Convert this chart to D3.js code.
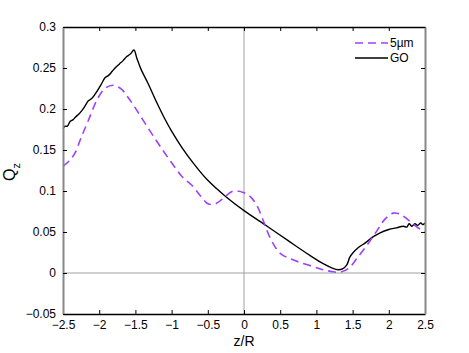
<!DOCTYPE html>
<html>
<head>
<meta charset="utf-8">
<script src="https://cdn.jsdelivr.net/npm/d3@7"></script>
<style>
  body { margin: 0; background: #fff; }
  text { font-family: "Liberation Sans", Arial, sans-serif; }
</style>
</head>
<body>
<div id="vis"></div>
<script>
const FRAME_WIDTH = 469;
const FRAME_HEIGHT = 353;
const MARGINS = {left: 63, right: 44, top: 27, bottom: 39};
const VIS_WIDTH = FRAME_WIDTH - MARGINS.left - MARGINS.right;
const VIS_HEIGHT = FRAME_HEIGHT - MARGINS.top - MARGINS.bottom;

// data
const xTicks = [-2.5, -2, -1.5, -1, -0.5, 0, 0.5, 1, 1.5, 2, 2.5];
const yTicks = [-0.05, 0, 0.05, 0.1, 0.15, 0.2, 0.25, 0.3];

// 5um (purple dashed)
const umZ = [-2.5, -2.4, -2.33, -2.25, -2.15, -2.02, -1.92, -1.81, -1.69, -1.6, -1.5, -1.37, -1.23, -1.1, -0.98, -0.86, -0.72, -0.6, -0.49, -0.38, -0.25, -0.15, 0, 0.1, 0.18, 0.27, 0.36, 0.5, 0.65, 0.77, 0.95, 1.09, 1.2, 1.33, 1.45, 1.56, 1.7, 1.84, 1.95, 2.06, 2.15, 2.25, 2.39, 2.5];
const umQ = [0.13, 0.138, 0.147, 0.165, 0.186, 0.213, 0.225, 0.229, 0.224, 0.214, 0.201, 0.183, 0.164, 0.147, 0.132, 0.118, 0.107, 0.094, 0.084, 0.085, 0.094, 0.1, 0.098, 0.092, 0.082, 0.063, 0.043, 0.024, 0.017, 0.013, 0.008, 0.004, 0.002, 0.001, 0.006, 0.018, 0.034, 0.052, 0.066, 0.073, 0.072, 0.066, 0.056, 0.05];

// GO (black solid)
const goZ = [-2.5, -2.47, -2.44, -2.4, -2.36, -2.33, -2.28, -2.24, -2.2, -2.15, -2.1, -2.05, -2.0, -1.96, -1.92, -1.87, -1.82, -1.77, -1.72, -1.67, -1.62, -1.57, -1.52, -1.48, -1.42, -1.33, -1.2, -1.1, -1.0, -0.85, -0.7, -0.5, -0.25, 0, 0.32, 0.6, 0.9, 1.1, 1.22, 1.3, 1.36, 1.42, 1.46, 1.5, 1.58, 1.68, 1.78, 1.88, 2.0, 2.1, 2.2, 2.25, 2.28, 2.32, 2.36, 2.4, 2.44, 2.47, 2.5];
const goQ = [0.176, 0.179, 0.179, 0.185, 0.187, 0.19, 0.194, 0.198, 0.203, 0.21, 0.213, 0.219, 0.226, 0.232, 0.238, 0.241, 0.246, 0.251, 0.255, 0.259, 0.264, 0.267, 0.272, 0.262, 0.248, 0.232, 0.207, 0.189, 0.173, 0.152, 0.134, 0.113, 0.093, 0.076, 0.057, 0.04, 0.022, 0.011, 0.006, 0.004, 0.005, 0.01, 0.019, 0.024, 0.031, 0.037, 0.044, 0.049, 0.053, 0.055, 0.057, 0.056, 0.06, 0.057, 0.06, 0.058, 0.061, 0.059, 0.061];

const FRAME = d3.select("#vis")
  .append("svg")
    .attr("width", FRAME_WIDTH)
    .attr("height", FRAME_HEIGHT);

const X_SCALE = d3.scaleLinear().domain([-2.5, 2.5]).range([MARGINS.left, MARGINS.left + VIS_WIDTH]);
const Y_SCALE = d3.scaleLinear().domain([-0.05, 0.3]).range([MARGINS.top + VIS_HEIGHT, MARGINS.top]);

const fmt = d => (d < 0 ? "\u2212" : "") + String(Math.abs(d));

// zero lines
FRAME.append("line")
  .attr("x1", X_SCALE(-2.5)).attr("x2", X_SCALE(2.5))
  .attr("y1", Y_SCALE(0)).attr("y2", Y_SCALE(0))
  .attr("stroke", "#a0a0a0").attr("stroke-width", 1);
FRAME.append("line")
  .attr("x1", X_SCALE(0)).attr("x2", X_SCALE(0))
  .attr("y1", Y_SCALE(-0.05)).attr("y2", Y_SCALE(0.3))
  .attr("stroke", "#a0a0a0").attr("stroke-width", 1);

// curves
const line = d3.line()
  .x(d => X_SCALE(d[0]))
  .y(d => Y_SCALE(d[1]))
  .curve(d3.curveCatmullRom);

FRAME.append("path")
  .datum(goZ.map((z, i) => [z, goQ[i]]))
  .attr("d", line)
  .attr("fill", "none")
  .attr("stroke", "#000")
  .attr("stroke-width", 1.4);

FRAME.append("path")
  .datum(umZ.map((z, i) => [z, umQ[i]]))
  .attr("d", line)
  .attr("fill", "none")
  .attr("stroke", "#a040ff")
  .attr("stroke-width", 1.6)
  .attr("stroke-dasharray", "8,5");

// axes (ticks pointing inward)
FRAME.append("g")
  .attr("transform", "translate(0," + (MARGINS.top + VIS_HEIGHT) + ")")
  .call(d3.axisBottom(X_SCALE).tickValues(xTicks).tickSizeInner(-4).tickSizeOuter(0).tickPadding(6).tickFormat(fmt))
  .call(g => g.select(".domain").attr("stroke", "#000").attr("stroke-width", 1.5))
  .attr("font-size", "12px")
  .attr("font-family", "Liberation Sans, Arial, sans-serif");

FRAME.append("g")
  .attr("transform", "translate(0," + MARGINS.top + ")")
  .call(d3.axisTop(X_SCALE).tickValues(xTicks).tickSizeInner(-4).tickSizeOuter(0).tickFormat(""))
  .call(g => g.select(".domain").attr("stroke", "#000").attr("stroke-width", 1.5));

FRAME.append("g")
  .attr("transform", "translate(" + MARGINS.left + ",0)")
  .call(d3.axisLeft(Y_SCALE).tickValues(yTicks).tickSizeInner(-4).tickSizeOuter(0).tickPadding(7).tickFormat(fmt))
  .call(g => g.select(".domain").attr("stroke", "#888").attr("stroke-width", 2))
  .attr("font-size", "12px")
  .attr("font-family", "Liberation Sans, Arial, sans-serif");

FRAME.append("g")
  .attr("transform", "translate(" + (MARGINS.left + VIS_WIDTH) + ",0)")
  .call(d3.axisRight(Y_SCALE).tickValues(yTicks).tickSizeInner(-4).tickSizeOuter(0).tickFormat(""))
  .call(g => g.select(".domain").attr("stroke", "#888").attr("stroke-width", 2));

// axis labels
FRAME.append("text")
  .attr("x", X_SCALE(0))
  .attr("y", 346)
  .attr("text-anchor", "middle")
  .style("font-size", "14px")
  .text("z/R");

const yLab = FRAME.append("text")
  .attr("transform", "translate(15,172) rotate(-90)")
  .attr("text-anchor", "middle")
  .style("font-size", "16px");
yLab.append("tspan").text("Q");
yLab.append("tspan").attr("dy", 5).style("font-size", "11px").text("z");

// legend
const legend = FRAME.append("g");
legend.append("line")
  .attr("x1", 355).attr("x2", 388).attr("y1", 43).attr("y2", 43)
  .attr("stroke", "#a040ff").attr("stroke-width", 1.6).attr("stroke-dasharray", "8,5");
legend.append("text")
  .attr("x", 390).attr("y", 47)
  .style("font-size", "12px")
  .text("5\u00b5m");
legend.append("line")
  .attr("x1", 355).attr("x2", 388).attr("y1", 58).attr("y2", 58)
  .attr("stroke", "#000").attr("stroke-width", 1.4);
legend.append("text")
  .attr("x", 390).attr("y", 62)
  .style("font-size", "12px")
  .text("GO");
</script>
</body>
</html>
